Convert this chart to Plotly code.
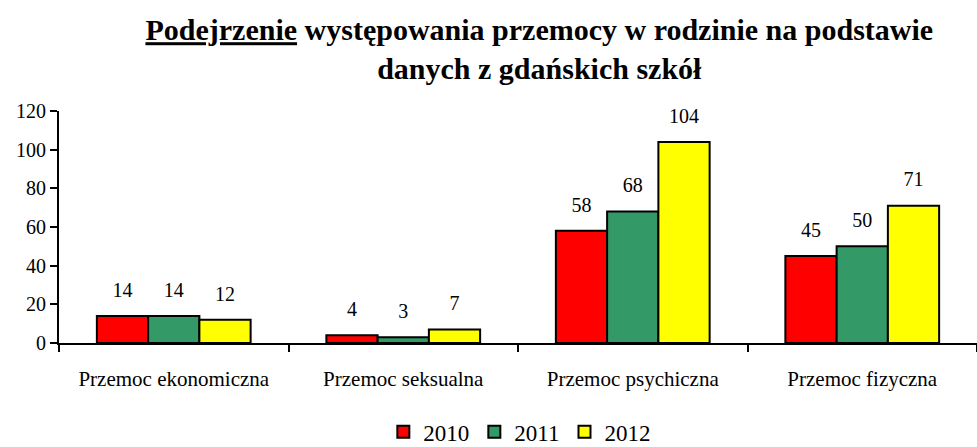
import plotly.graph_objects as go

categories = ["Przemoc ekonomiczna", "Przemoc seksualna", "Przemoc psychiczna", "Przemoc fizyczna"]
years = ["2010", "2011", "2012"]
values_2010 = [14, 4, 58, 45]
values_2011 = [14, 3, 68, 50]
values_2012 = [12, 7, 104, 71]
colors = ["#FF0000", "#339966", "#FFFF00"]

SERIF = "Liberation Serif, Times New Roman, serif"

fig = go.Figure()
for name, vals, col in zip(years, [values_2010, values_2011, values_2012], colors):
    fig.add_trace(go.Bar(
        x=categories, y=vals, name=name,
        marker=dict(color=col, line=dict(color="black", width=2)),
        text=vals,
        texttemplate="<span style='font-size:20px'>%{y}</span><br> ",
        textposition="outside",
        textfont=dict(family=SERIF, size=11, color="black"),
        cliponaxis=False,
    ))

fig.update_layout(
    width=977, height=447,
    margin=dict(l=59, r=0, t=111, b=104, autoexpand=False),
    paper_bgcolor="white", plot_bgcolor="white",
    barmode="group", bargap=0.33, bargroupgap=0,
    font=dict(family=SERIF, color="black"),
    title=dict(
        text="<b><u>Podejrzenie</u> występowania przemocy w rodzinie na podstawie<br>danych z gdańskich szkół</b>",
        x=0.552, xanchor="center", y=0.91, yanchor="top",
        font=dict(family=SERIF, size=30, color="black"),
    ),
    legend=dict(
        orientation="h", x=0.502, xanchor="center",
        y=-0.29, yanchor="top",
        font=dict(family=SERIF, size=23, color="black"),
        traceorder="normal", itemwidth=30,
        tracegroupgap=0,
    ),
    showlegend=True,
)
fig.update_xaxes(
    showline=True, linecolor="black", linewidth=2,
    ticks="outside", tickson="boundaries", ticklen=7, tickwidth=2, tickcolor="black",
    tickfont=dict(family=SERIF, size=21, color="black"),
    ticklabelstandoff=16,
)
fig.update_yaxes(
    range=[0, 120], dtick=20, showgrid=False, zeroline=False,
    showline=True, linecolor="black", linewidth=2,
    ticks="outside", ticklen=7, tickwidth=2, tickcolor="black",
    tickfont=dict(family=SERIF, size=20, color="black"),
)

fig.write_html("out.html", config={"displayModeBar": False},
               post_script="document.body.style.margin='0';")
